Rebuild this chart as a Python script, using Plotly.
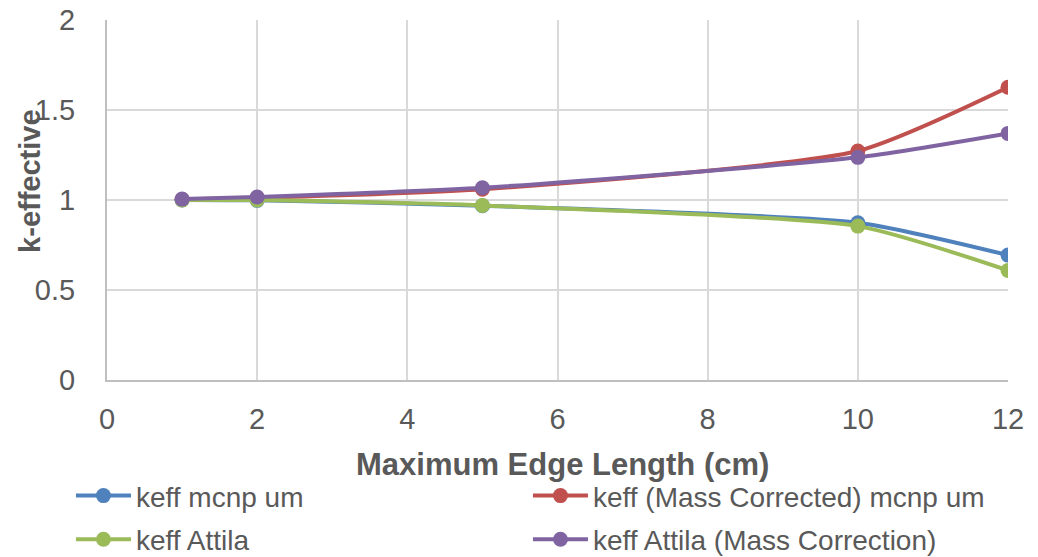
import plotly.graph_objects as go

# Mesh maximum edge length (cm)
edge_length = [1, 2, 5, 10, 12]

# k-effective results per method
keff_mcnp_um = [1.000, 0.998, 0.968, 0.874, 0.694]
keff_mass_corrected_mcnp_um = [1.003, 1.012, 1.060, 1.272, 1.626]
keff_attila = [1.000, 1.000, 0.970, 0.855, 0.609]
keff_attila_mass_correction = [1.005, 1.017, 1.068, 1.237, 1.370]

# name, values, colour, legend row
series = [
    ("keff mcnp um", keff_mcnp_um, "#4f81bd", "legend"),
    ("keff (Mass Corrected) mcnp um", keff_mass_corrected_mcnp_um, "#c0504d", "legend"),
    ("keff Attila", keff_attila, "#9bbb59", "legend2"),
    ("keff Attila (Mass Correction)", keff_attila_mass_correction, "#8064a2", "legend2"),
]

fig = go.Figure()
for name, vals, color, leg in series:
    fig.add_trace(go.Scatter(
        x=edge_length, y=vals, name=name, mode="lines+markers", legend=leg,
        line=dict(color=color, width=4, shape="spline", smoothing=0.6),
        marker=dict(color=color, size=15),
    ))

grid = "#d9d9d9"
font_family = "Liberation Sans, Arial, sans-serif"
text_color = "#595959"
tick_font = dict(family=font_family, size=29, color=text_color)

legend_style = dict(
    orientation="h", x=-0.04, xanchor="left", yanchor="middle",
    entrywidth=387, entrywidthmode="pixels",
    font=dict(family=font_family, size=28, color=text_color),
    itemwidth=55, traceorder="normal", bgcolor="rgba(0,0,0,0)",
)

fig.update_layout(
    width=1038, height=557,
    margin=dict(l=107, r=30, t=20, b=177, autoexpand=False),
    paper_bgcolor="white", plot_bgcolor="white",
    showlegend=True,
    legend=dict(legend_style, y=-0.322),
    legend2=dict(legend_style, y=-0.443),
    xaxis=dict(
        range=[0, 12], dtick=2, tick0=0, showgrid=True, gridcolor=grid, gridwidth=2,
        showline=True, linecolor="#bfbfbf", linewidth=2, zeroline=False,
        ticks="", tickfont=tick_font, ticklabelstandoff=12, automargin=False,
    ),
    yaxis=dict(
        range=[0, 2], dtick=0.5, showgrid=True, gridcolor=grid, gridwidth=2,
        showline=True, linecolor="#bfbfbf", linewidth=2, zeroline=False,
        ticks="", tickfont=tick_font, ticklabelstandoff=24, automargin=False,
    ),
    annotations=[
        dict(
            text="<b>k-effective</b>", textangle=-90,
            font=dict(family=font_family, size=29, color=text_color),
            xref="paper", yref="paper", x=-0.0855, y=0.553,
            xanchor="center", yanchor="middle", showarrow=False,
        ),
        dict(
            text="<b>Maximum Edge Length (cm)</b>",
            font=dict(family=font_family, size=31, color=text_color),
            xref="paper", yref="paper", x=0.505, y=-0.236,
            xanchor="center", yanchor="middle", showarrow=False,
        ),
    ],
)

fig.write_html("out.html")
